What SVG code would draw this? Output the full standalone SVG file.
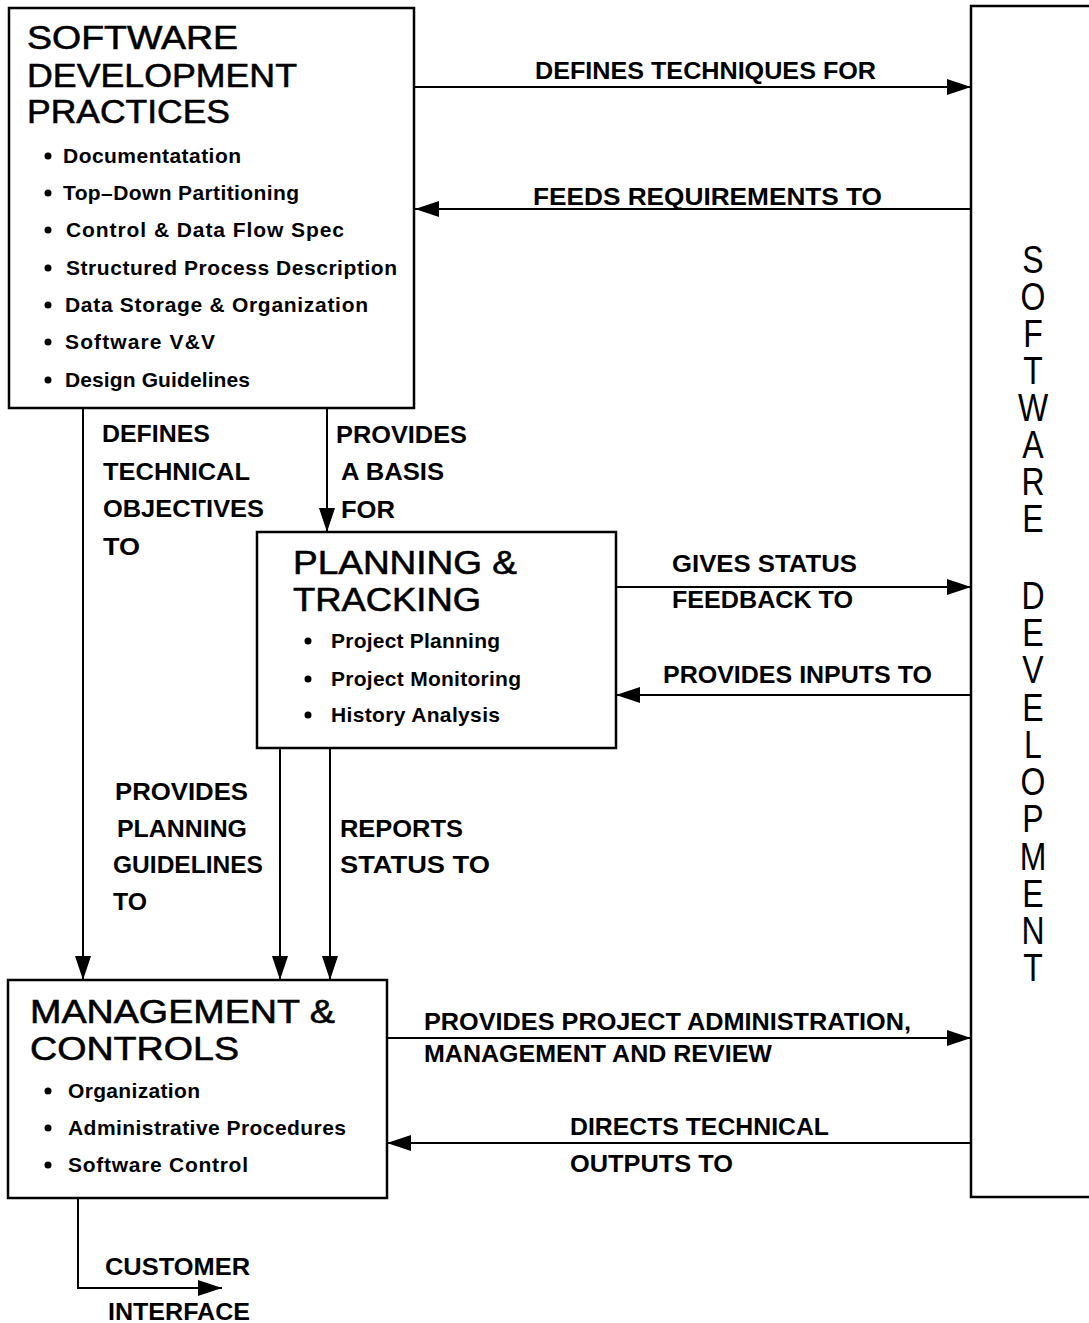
<svg xmlns="http://www.w3.org/2000/svg" width="1089" height="1323" viewBox="0 0 1089 1323">
<style>
.box{fill:#fff;stroke:#000;stroke-width:2.5}
.t{font-family:"Liberation Sans",Arial,Helvetica,sans-serif;fill:#000}
.title{font-size:34px;stroke:#000;stroke-width:0.6}
.item{font-size:21px;font-weight:bold}
.lbl{font-size:23px;font-weight:bold}
.vert{font-size:39px;writing-mode:vertical-rl;text-orientation:upright}
.conn{stroke:#000;stroke-width:2;fill:none}
.dot{fill:#000}
</style>
<defs>
<marker id="ah" markerUnits="userSpaceOnUse" markerWidth="24" markerHeight="16" refX="24" refY="8" orient="auto">
<path d="M0,0 L24,8 L0,16 z" fill="#000"/>
</marker>
</defs>
<rect width="1089" height="1323" fill="#fff"/>

<g id="connectors">
<path class="conn" d="M415,87 L971,87" marker-end="url(#ah)"/>
<path class="conn" d="M971,209 L415,209" marker-end="url(#ah)"/>
<path class="conn" d="M83,408 L83,980" marker-end="url(#ah)"/>
<path class="conn" d="M327,408 L327,532" marker-end="url(#ah)"/>
<path class="conn" d="M616,587 L971,587" marker-end="url(#ah)"/>
<path class="conn" d="M971,695 L616,695" marker-end="url(#ah)"/>
<path class="conn" d="M280,748 L280,980" marker-end="url(#ah)"/>
<path class="conn" d="M330,748 L330,980" marker-end="url(#ah)"/>
<path class="conn" d="M387,1038 L971,1038" marker-end="url(#ah)"/>
<path class="conn" d="M971,1143 L387,1143" marker-end="url(#ah)"/>
<path class="conn" d="M78,1198 L78,1288 L222,1288" marker-end="url(#ah)"/>
<g class="t lbl">
<text x="535" y="79" textLength="341" lengthAdjust="spacingAndGlyphs">DEFINES TECHNIQUES FOR</text>
<text x="533" y="205" textLength="349" lengthAdjust="spacingAndGlyphs">FEEDS REQUIREMENTS TO</text>
<text x="102" y="442" textLength="108" lengthAdjust="spacingAndGlyphs">DEFINES</text>
<text x="103" y="480" textLength="147" lengthAdjust="spacingAndGlyphs">TECHNICAL</text>
<text x="103" y="517" textLength="161" lengthAdjust="spacingAndGlyphs">OBJECTIVES</text>
<text x="103" y="555" textLength="37" lengthAdjust="spacingAndGlyphs">TO</text>
<text x="336" y="443" textLength="131" lengthAdjust="spacingAndGlyphs">PROVIDES</text>
<text x="341" y="480" textLength="103" lengthAdjust="spacingAndGlyphs">A BASIS</text>
<text x="341" y="518" textLength="54" lengthAdjust="spacingAndGlyphs">FOR</text>
<text x="672" y="572" textLength="185" lengthAdjust="spacingAndGlyphs">GIVES STATUS</text>
<text x="672" y="608" textLength="181" lengthAdjust="spacingAndGlyphs">FEEDBACK TO</text>
<text x="663" y="683" textLength="269" lengthAdjust="spacingAndGlyphs">PROVIDES INPUTS TO</text>
<text x="115" y="800" textLength="133" lengthAdjust="spacingAndGlyphs">PROVIDES</text>
<text x="117" y="837" textLength="130" lengthAdjust="spacingAndGlyphs">PLANNING</text>
<text x="113" y="873" textLength="150" lengthAdjust="spacingAndGlyphs">GUIDELINES</text>
<text x="113" y="910" textLength="34" lengthAdjust="spacingAndGlyphs">TO</text>
<text x="340" y="837" textLength="123" lengthAdjust="spacingAndGlyphs">REPORTS</text>
<text x="340" y="873" textLength="150" lengthAdjust="spacingAndGlyphs">STATUS TO</text>
<text x="424" y="1030" textLength="487" lengthAdjust="spacingAndGlyphs">PROVIDES PROJECT ADMINISTRATION,</text>
<text x="424" y="1062" textLength="348" lengthAdjust="spacingAndGlyphs">MANAGEMENT AND REVIEW</text>
<text x="570" y="1135" textLength="259" lengthAdjust="spacingAndGlyphs">DIRECTS TECHNICAL</text>
<text x="570" y="1172" textLength="163" lengthAdjust="spacingAndGlyphs">OUTPUTS TO</text>
<text x="105" y="1275" textLength="145" lengthAdjust="spacingAndGlyphs">CUSTOMER</text>
<text x="108" y="1320" textLength="142" lengthAdjust="spacingAndGlyphs">INTERFACE</text>
</g>
</g>

<g id="node-sdp">
<rect class="box" x="9" y="8" width="405" height="400"/>
<g class="t title">
<text x="27" y="49" textLength="211" lengthAdjust="spacingAndGlyphs">SOFTWARE</text>
<text x="27" y="87" textLength="270" lengthAdjust="spacingAndGlyphs">DEVELOPMENT</text>
<text x="27" y="123" textLength="203" lengthAdjust="spacingAndGlyphs">PRACTICES</text>
</g>
<g class="dot">
<circle cx="48" cy="156" r="3.5"/><circle cx="48" cy="193" r="3.5"/><circle cx="48" cy="230" r="3.5"/><circle cx="48" cy="268" r="3.5"/><circle cx="48" cy="305" r="3.5"/><circle cx="48" cy="342" r="3.5"/><circle cx="48" cy="380" r="3.5"/>
</g>
<g class="t item">
<text x="63" y="163" textLength="178">Documentatation</text>
<text x="63" y="200" textLength="236">Top–Down Partitioning</text>
<text x="66" y="237" textLength="278">Control &amp; Data Flow Spec</text>
<text x="66" y="275" textLength="331">Structured Process Description</text>
<text x="65" y="312" textLength="303">Data Storage &amp; Organization</text>
<text x="65" y="349" textLength="150">Software V&amp;V</text>
<text x="65" y="387" textLength="185">Design Guidelines</text>
</g>
</g>

<g id="node-pt">
<rect class="box" x="257" y="532" width="359" height="216"/>
<g class="t title">
<text x="293" y="574" textLength="224" lengthAdjust="spacingAndGlyphs">PLANNING &amp;</text>
<text x="293" y="611" textLength="188" lengthAdjust="spacingAndGlyphs">TRACKING</text>
</g>
<g class="dot">
<circle cx="308" cy="641" r="3.5"/><circle cx="308" cy="679" r="3.5"/><circle cx="308" cy="715" r="3.5"/>
</g>
<g class="t item">
<text x="331" y="648" textLength="169">Project Planning</text>
<text x="331" y="686" textLength="190">Project Monitoring</text>
<text x="331" y="722" textLength="169">History Analysis</text>
</g>
</g>

<g id="node-mc">
<rect class="box" x="8" y="980" width="379" height="218"/>
<g class="t title">
<text x="30" y="1023" textLength="305" lengthAdjust="spacingAndGlyphs">MANAGEMENT &amp;</text>
<text x="30" y="1060" textLength="209" lengthAdjust="spacingAndGlyphs">CONTROLS</text>
</g>
<g class="dot">
<circle cx="48" cy="1091" r="3.5"/><circle cx="48" cy="1128" r="3.5"/><circle cx="48" cy="1165" r="3.5"/>
</g>
<g class="t item">
<text x="68" y="1098" textLength="132">Organization</text>
<text x="68" y="1135" textLength="278">Administrative Procedures</text>
<text x="68" y="1172" textLength="180">Software Control</text>
</g>
</g>

<g id="node-sd">
<rect class="box" x="971" y="6" width="200" height="1191"/>
<g class="t vert" transform="translate(1033,0) scale(0.82,1)">
<text x="0" y="238" textLength="303">SOFTWARE</text>
<text x="0" y="574" textLength="416">DEVELOPMENT</text>
</g>
</g>
</svg>
